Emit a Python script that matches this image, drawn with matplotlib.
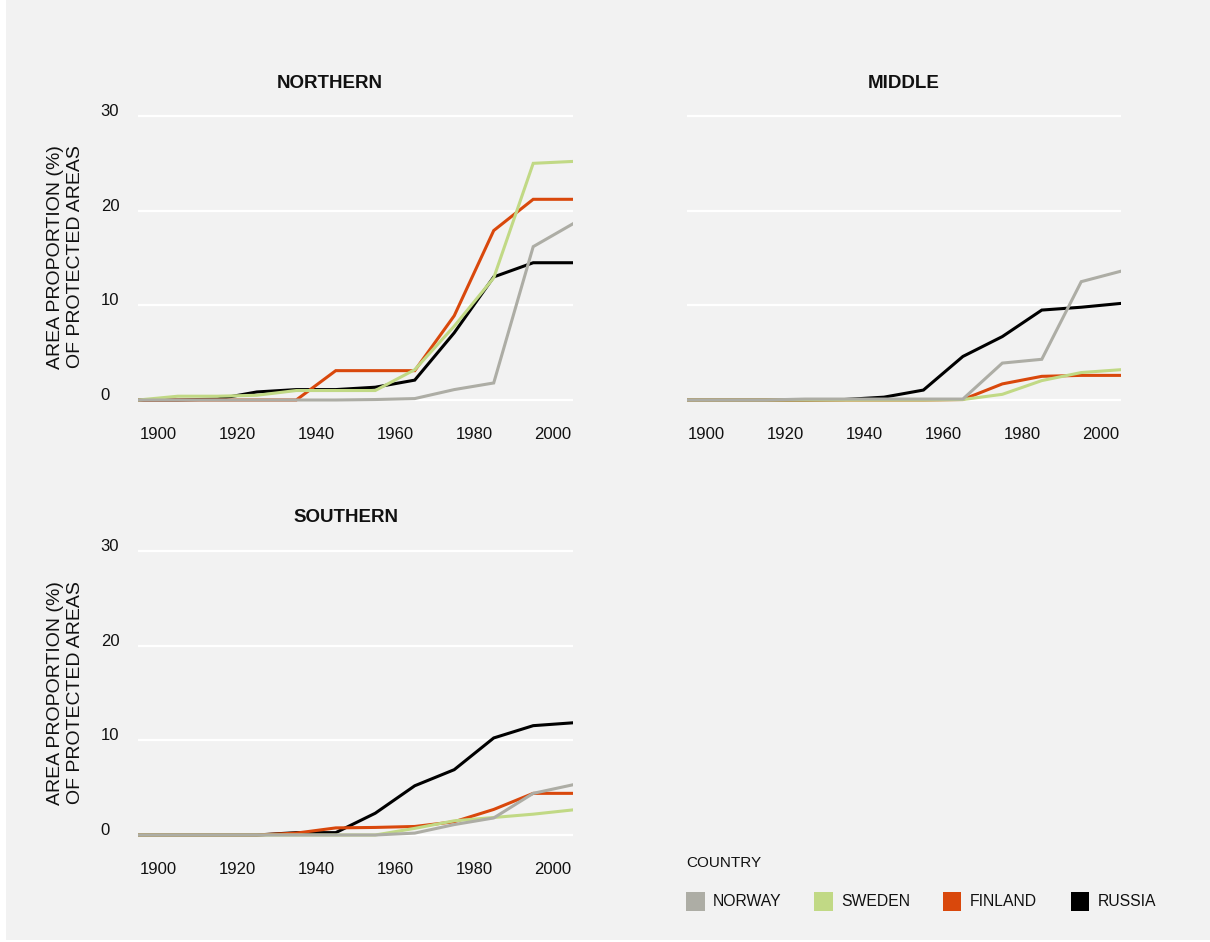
import matplotlib.pyplot as plt
from matplotlib.patches import Rectangle

plt.rcParams['font.family'] = ['Liberation Sans', 'DejaVu Sans']

W, H = 1210, 942

years = [1895, 1905, 1915, 1925, 1935, 1945, 1955, 1965, 1975, 1985, 1995, 2005]
countries = ['NORWAY', 'SWEDEN', 'FINLAND', 'RUSSIA']
colors = {'NORWAY': '#adada5', 'SWEDEN': '#c1d985', 'FINLAND': '#d9480c', 'RUSSIA': '#000000'}

northern = {
    'NORWAY':  [0, 0, 0, 0, 0, 0, 0.05, 0.15, 1.1, 1.8, 16.2, 18.6],
    'SWEDEN':  [0, 0.4, 0.4, 0.5, 1.0, 1.0, 1.0, 3.2, 7.8, 12.9, 25.0, 25.2],
    'FINLAND': [0, 0, 0, 0, 0, 3.1, 3.1, 3.1, 8.9, 17.9, 21.2, 21.2],
    'RUSSIA':  [0, 0, 0.1, 0.85, 1.1, 1.1, 1.35, 2.1, 7.1, 13.0, 14.5, 14.5],
}
middle = {
    'NORWAY':  [0, 0, 0, 0.1, 0.1, 0.1, 0.1, 0.1, 3.9, 4.3, 12.5, 13.6],
    'SWEDEN':  [0, 0, 0, 0, 0, 0, 0, 0.05, 0.6, 2.05, 2.9, 3.2],
    'FINLAND': [0, 0, 0, 0, 0, 0, 0, 0.05, 1.7, 2.5, 2.6, 2.6],
    'RUSSIA':  [0, 0, 0, 0, 0.05, 0.3, 1.05, 4.6, 6.7, 9.5, 9.8, 10.2],
}
southern = {
    'NORWAY':  [0, 0, 0, 0, 0, 0, 0, 0.2, 1.1, 1.8, 4.4, 5.3],
    'SWEDEN':  [0, 0, 0, 0, 0, 0, 0, 0.7, 1.5, 1.85, 2.2, 2.65],
    'FINLAND': [0, 0, 0, 0, 0.2, 0.75, 0.8, 0.9, 1.4, 2.7, 4.4, 4.4],
    'RUSSIA':  [0, 0, 0, 0, 0.25, 0.25, 2.3, 5.2, 6.9, 10.25, 11.55, 11.85],
}
yticks = [0, 10, 20, 30]
xticks = [1900, 1920, 1940, 1960, 1980, 2000]

fig = plt.figure(figsize=(W / 100, H / 100), dpi=100, facecolor='white')
fig.patches.append(Rectangle((6 / W, 2 / H), 1 - 6 / W, 1 - 2 / H, transform=fig.transFigure,
                             facecolor='#f2f2f2', edgecolor='none', zorder=-10))


def px_axes(x0, x1, y30, y0):
    u = (y0 - y30) / 30.0
    top = y30 - u
    bot = y0 + u
    return fig.add_axes([x0 / W, 1 - bot / H, (x1 - x0) / W, (bot - top) / H])


def panel(ax, data, title, tx, ty, show_y):
    for c in ['RUSSIA', 'FINLAND', 'SWEDEN', 'NORWAY']:
        ax.plot(years, data[c], color=colors[c], lw=2.2, solid_joinstyle='miter', zorder=3)
    ax.set_xlim(1895, 2005)
    ax.set_ylim(-1, 31)
    ax.set_facecolor('none')
    for s in ax.spines.values():
        s.set_visible(False)
    ax.set_yticks(yticks)
    ax.grid(axis='y', color='white', lw=1.6, zorder=1)
    ax.set_xticks(xticks)
    ax.set_xticklabels([str(t) for t in xticks], fontsize=12, color='#111111')
    ax.tick_params(length=0)
    ax.tick_params(axis='x', pad=12.5)
    if show_y:
        ax.set_yticklabels([str(t) for t in yticks], fontsize=12, color='#111111')
        ax.tick_params(axis='y', pad=27)
        for lab in ax.get_yticklabels():
            lab.set_horizontalalignment('left')
            lab.set_verticalalignment('baseline')
    else:
        ax.set_yticklabels([])
    fig.text(tx / W, 1 - ty / H, title, fontsize=13.5, fontweight='bold',
             ha='center', va='center', color='#111111')


ax1 = px_axes(138.3, 572.7, 116, 400)
panel(ax1, northern, 'NORTHERN', 329.5, 83, True)
ax2 = px_axes(686.7, 1120.7, 116, 400)
panel(ax2, middle, 'MIDDLE', 904, 83, False)
ax3 = px_axes(138.3, 572.7, 551, 835)
panel(ax3, southern, 'SOUTHERN', 346, 517, True)

ylab = 'AREA PROPORTION (%)\nOF PROTECTED AREAS'
for yc in [257, 693]:
    fig.text(65.5 / W, 1 - yc / H, ylab, rotation=90, fontsize=14, ha='center', va='center',
             multialignment='center', color='#111111')

# legend
fig.text(686 / W, 1 - 863 / H, 'COUNTRY', fontsize=11, ha='left', va='center', color='#111111')
for i, c in enumerate(countries):
    x = 686 + i * 128.3
    fig.patches.append(Rectangle((x / W, 1 - 911 / H), 18.5 / W, 19 / H, transform=fig.transFigure,
                                 facecolor=colors[c], edgecolor='none'))
    fig.text((x + 27) / W, 1 - 901.5 / H, c, fontsize=11.3, ha='left', va='center', color='#111111')

fig.savefig('out.png', dpi=100, facecolor=fig.get_facecolor())
